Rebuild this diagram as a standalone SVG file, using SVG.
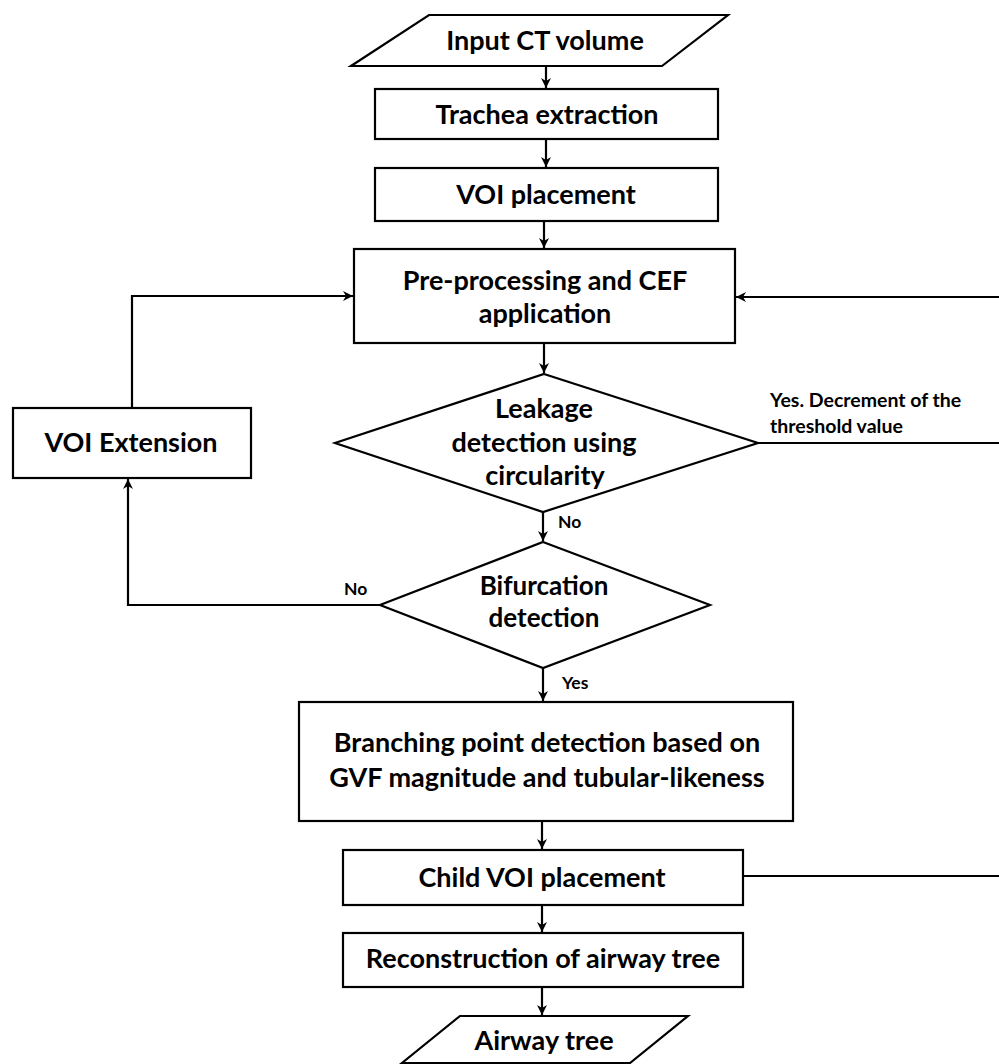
<svg xmlns="http://www.w3.org/2000/svg" width="999" height="1064" viewBox="0 0 999 1064">
<style>
.box{fill:#fff;stroke:#000;stroke-width:2.2}
.t{font-family:Lato,"Open Sans","Liberation Sans",sans-serif;font-weight:bold;font-size:27px;fill:#000;text-anchor:middle}
.lbl{font-family:Lato,"Open Sans","Liberation Sans",sans-serif;font-weight:bold;font-size:19.5px;fill:#000}
.sm{font-family:Lato,"Open Sans","Liberation Sans",sans-serif;font-weight:bold;font-size:17.5px;fill:#000}
.c{fill:none;stroke:#000;stroke-width:2.2}
</style>
<defs>
<marker id="ah" markerUnits="userSpaceOnUse" markerWidth="12" markerHeight="12" refX="10" refY="6" orient="auto">
<path d="M0,1 L10,6 L0,11 L3,6 z" fill="#000"/>
</marker>
</defs>
<rect width="999" height="1064" fill="#fff"/>
<g id="connectors">
<path class="c" d="M546,66 V88" marker-end="url(#ah)"/>
<path class="c" d="M546,139 V167" marker-end="url(#ah)"/>
<path class="c" d="M544,221 V248" marker-end="url(#ah)"/>
<path class="c" d="M544,343 V373" marker-end="url(#ah)"/>
<path class="c" d="M543,512 V541" marker-end="url(#ah)"/>
<path class="c" d="M543,668 V701" marker-end="url(#ah)"/>
<path class="c" d="M542,821 V849" marker-end="url(#ah)"/>
<path class="c" d="M542,905 V932" marker-end="url(#ah)"/>
<path class="c" d="M542,987 V1015" marker-end="url(#ah)"/>
<path class="c" d="M132,408 V296 H353" marker-end="url(#ah)"/>
<path class="c" d="M380,605 H128 V479" marker-end="url(#ah)"/>
<path class="c" d="M999,297 H736" marker-end="url(#ah)"/>
<path class="c" d="M758,443 H999"/>
<path class="c" d="M743,876 H999"/>
<text class="lbl" x="770" y="407">Yes. Decrement of the</text>
<text class="lbl" x="770" y="433">threshold value</text>
<text class="sm" x="558" y="528">No</text>
<text class="sm" x="344" y="595">No</text>
<text class="sm" x="562" y="689">Yes</text>
</g>
<g id="input">
<polygon class="box" points="429,15 728,15 662,66 351,66"/>
<text class="t" x="545" y="50">Input CT volume</text>
</g>
<g id="trachea">
<rect class="box" x="375" y="89" width="343" height="50"/>
<text class="t" x="547" y="124">Trachea extraction</text>
</g>
<g id="voi">
<rect class="box" x="375" y="168" width="343" height="53"/>
<text class="t" x="546" y="204">VOI placement</text>
</g>
<g id="preproc">
<rect class="box" x="354" y="249" width="381" height="94"/>
<text class="t" x="545" y="290">Pre-processing and CEF</text>
<text class="t" x="545" y="323">application</text>
</g>
<g id="voiext">
<rect class="box" x="13" y="408" width="238" height="70"/>
<text class="t" x="131" y="452">VOI Extension</text>
</g>
<g id="leakage">
<polygon class="box" points="544,374 758,443 543,512 335,443"/>
<text class="t" x="544" y="418">Leakage</text>
<text class="t" x="544" y="452">detection using</text>
<text class="t" x="545" y="485">circularity</text>
</g>
<g id="bifurcation">
<polygon class="box" points="543,542 710,605 543,668 380,605"/>
<text class="t" x="544" y="595" style="font-size:26px">Bifurcation</text>
<text class="t" x="544" y="627" style="font-size:26px">detection</text>
</g>
<g id="branching">
<rect class="box" x="299" y="702" width="494" height="119"/>
<text class="t" x="547" y="752">Branching point detection based on</text>
<text class="t" x="547" y="787">GVF magnitude and tubular-likeness</text>
</g>
<g id="child">
<rect class="box" x="343" y="850" width="400" height="55"/>
<text class="t" x="542" y="887">Child VOI placement</text>
</g>
<g id="recon">
<rect class="box" x="343" y="933" width="400" height="54"/>
<text class="t" x="543" y="968">Reconstruction of airway tree</text>
</g>
<g id="airway">
<polygon class="box" points="460,1016 688,1016 630,1063 402,1063"/>
<text class="t" x="544" y="1050">Airway tree</text>
</g>
</svg>
